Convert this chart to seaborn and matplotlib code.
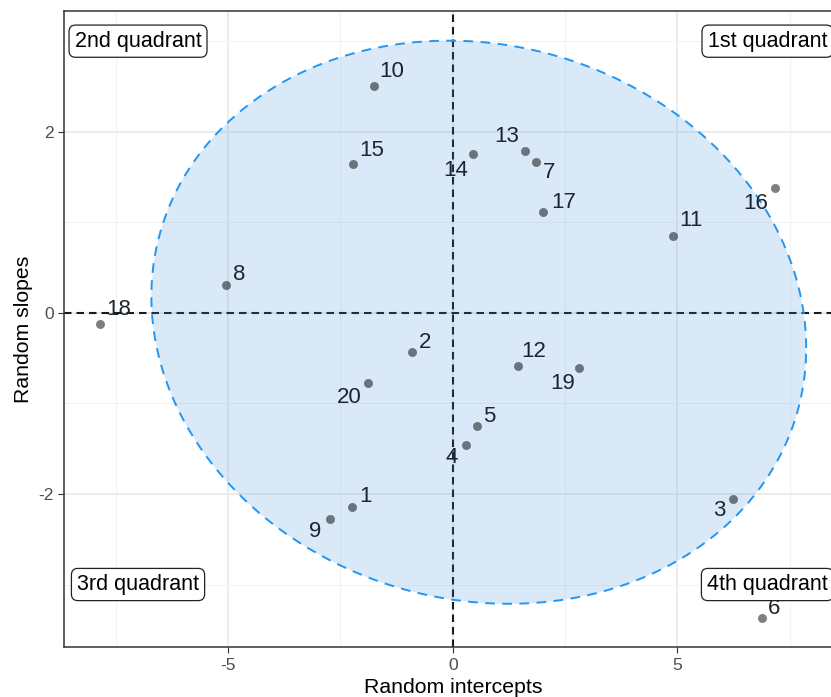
import numpy as np
import pandas as pd
import seaborn as sns
import matplotlib.pyplot as plt
from matplotlib.patches import Polygon

# Random effects per subject
subjects = [str(i) for i in [10, 15, 8, 18, 14, 13, 7, 17, 11, 16, 2, 20, 12, 19, 5, 4, 1, 9, 3, 6]]
intercepts = [-1.76, -2.21, -5.04, -7.85, 0.46, 1.61, 1.85, 2.01, 4.90, 7.17,
              -0.90, -1.88, 1.45, 2.82, 0.53, 0.30, -2.23, -2.74, 6.24, 6.87]
slopes = [2.51, 1.64, 0.31, -0.12, 1.75, 1.79, 1.67, 1.11, 0.85, 1.38,
          -0.43, -0.77, -0.59, -0.61, -1.25, -1.46, -2.14, -2.28, -2.06, -3.37]

quad_names = ["1st quadrant", "2nd quadrant", "3rd quadrant", "4th quadrant"]
quad_x = [7, -7, -7, 7]
quad_y = [3, 3, -3, -3]

level = 0.8

# label nudges (pixels, right / down) like ggrepel placed them
nudges = {"10": (18, -14), "15": (18, -14), "8": (13, -10), "18": (19, -14),
          "14": (-18, 16), "13": (-18, -14), "7": (13, 11), "17": (21, -10),
          "11": (18, -15), "16": (-19, 16), "2": (13, -9), "20": (-19, 15),
          "12": (16, -15), "19": (-17, 15), "5": (13, -10), "4": (-14, 12),
          "1": (13, -10), "9": (-14, 12), "3": (-14, 11), "6": (13, -10)}

df = pd.DataFrame({"id": subjects, "x": intercepts, "y": slopes})

# normal-theory ellipse, same recipe as ggplot2::stat_ellipse(type = "norm")
center = df[["x", "y"]].mean().values
cov = np.cov(df["x"], df["y"])
n = len(df)
dfd = n - 1
fq = dfd / 2 * ((1 - level) ** (-2 / dfd) - 1)   # qf(level, 2, n-1)
radius = np.sqrt(2 * fq)
theta = np.linspace(0, 2 * np.pi, 200)
circle = np.column_stack([np.cos(theta), np.sin(theta)])
chol = np.linalg.cholesky(cov).T
ell = center + radius * circle @ chol

sns.set_style("ticks")
plt.rcParams['font.family'] = ['Liberation Sans', 'DejaVu Sans']

fig = plt.figure(figsize=(8.31, 6.97), dpi=100)
ax = fig.add_axes([64.3 / 831, 50 / 697, (842 - 64.3) / 831, (647 - 11.3) / 697])

ax.set_xlim(-8.64, 8.66)
ax.set_ylim(-3.69, 3.33)
ax.set_xticks([-5, 0, 5])
ax.set_yticks([-2, 0, 2])
ax.set_xticks([-7.5, -2.5, 2.5, 7.5], minor=True)
ax.set_yticks([-3, -1, 1, 3], minor=True)
ax.set_xticklabels(["-5", "0", "5"])
ax.set_yticklabels(["-2", "0", "2"])
ax.grid(which="major", color="#EBEBEB", linewidth=1.3)
ax.grid(which="minor", color="#F2F2F2", linewidth=0.8)
ax.set_axisbelow(True)
ax.tick_params(which="major", length=4.3, width=0.8, color="#333333",
               labelcolor="#4D4D4D", labelsize=12.5, pad=3.4)
ax.tick_params(which="minor", length=0)
for s in ax.spines.values():
    s.set_color("#333333")
    s.set_linewidth(1.1)

ax.axhline(0, color="#1a1a1a", lw=1.5, ls=(0, (3.6, 2.4)), zorder=1)
ax.axvline(0, color="#1a1a1a", lw=1.5, ls=(0, (3.6, 2.4)), zorder=1)

ax.add_patch(Polygon(ell, closed=True, facecolor="#328AD8", alpha=0.18,
                     edgecolor="none", zorder=2))
ax.plot(ell[:, 0], ell[:, 1], color="#2196F3", lw=1.4, ls=(0, (5, 3.8)), zorder=2.5)

sns.scatterplot(data=df, x="x", y="y", ax=ax, color="black", alpha=0.5,
                s=38, edgecolor="black", linewidth=0.2, zorder=3, legend=False)

for lab, xx, yy in zip(df["id"], df["x"], df["y"]):
    dx, dy = nudges[lab]
    ax.annotate(lab, (xx, yy), xytext=(dx, -dy), textcoords="offset pixels",
                ha="center", va="center", fontsize=16, color="#1b2631", zorder=4)

for name, qx, qy in zip(quad_names, quad_x, quad_y):
    ax.text(qx, qy, name, ha="center", va="center", fontsize=15.5, color="black",
            zorder=5, bbox=dict(boxstyle="round,pad=0.26,rounding_size=0.3",
                                facecolor="white", edgecolor="#222222", linewidth=0.9))

ax.set_xlabel("Random intercepts", fontsize=15.3, color="black", labelpad=3.5)
ax.set_ylabel("Random slopes", fontsize=15.3, color="black", labelpad=3.5)

fig.savefig("out.png", dpi=100)
